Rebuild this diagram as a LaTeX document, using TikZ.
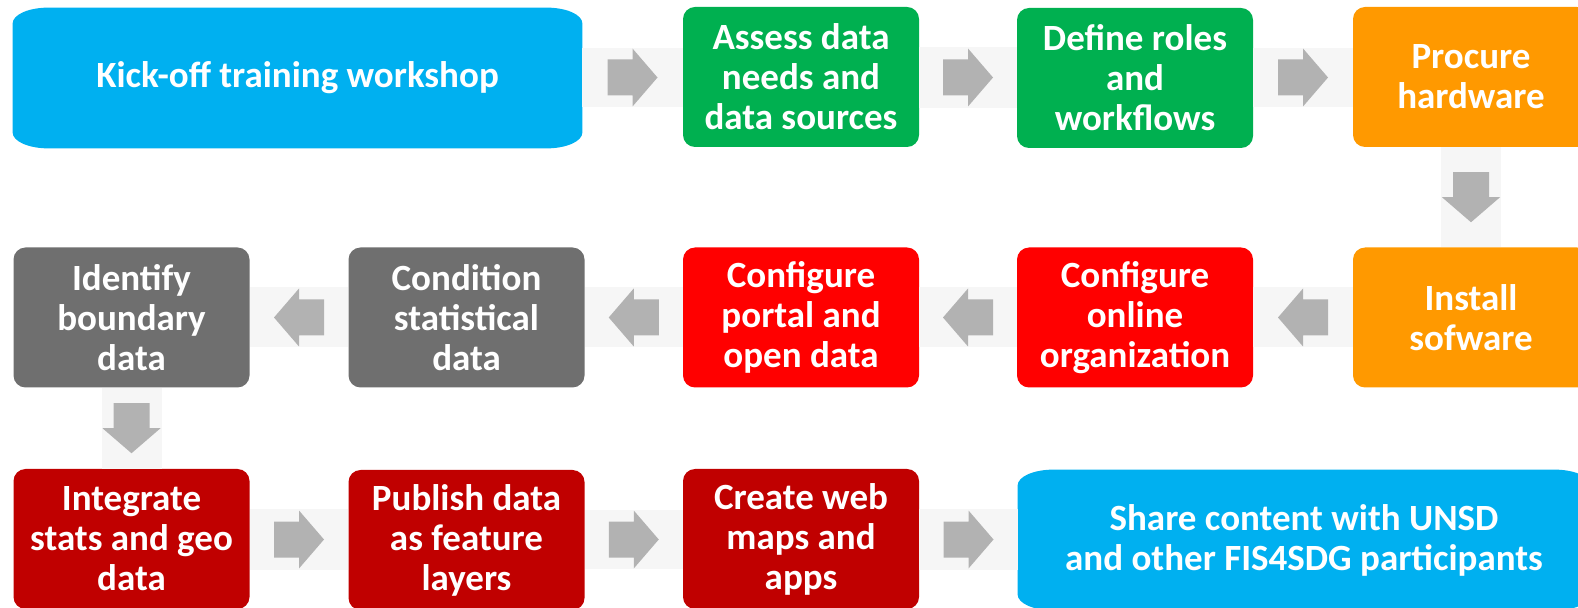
\documentclass[tikz,border=0pt]{standalone}
\usepackage{fontspec}
\setmainfont{Carlito}
\usetikzlibrary{calc}
\pgfdeclarelayer{background}
\pgfsetlayers{background,main}
\definecolor{cblue}{HTML}{00B0F0}
\definecolor{cgreen}{HTML}{00B050}
\definecolor{corange}{HTML}{FF9900}
\definecolor{cred}{HTML}{FF0000}
\definecolor{cdred}{HTML}{C00000}
\definecolor{cgray}{HTML}{6F6F6F}
\definecolor{carrow}{HTML}{B2B2B2}
\definecolor{cband}{HTML}{F6F6F6}
\tikzset{
  stepbox/.style={rectangle, rounded corners=6pt, inner sep=0pt, text=white,
    minimum width=118pt, minimum height=70pt, align=center,
    font=\fontsize{18.5}{20}\selectfont\bfseries},
  widebox/.style={rectangle, inner sep=0pt, text=white, align=center,
    minimum height=70pt, font=\fontsize{18.5}{20}\selectfont\bfseries},
  bandfill/.style={fill=cband},
  arrowfill/.style={fill=carrow}
}
% right-pointing block arrow in the gap between #1 (left) and #2 (right)
\newcommand\rarr[2]{%
  \fill[bandfill] ([yshift=15pt]#1.east) rectangle ([yshift=-15pt]#2.west);
  \coordinate (m) at ($(#1.east)!0.5!(#2.west)$);
  \fill[arrowfill] ([shift={(-25,-18)}]m) -- ([shift={(0,-18)}]m) -- ([shift={(0,-29)}]m)
    -- ([shift={(25,0)}]m) -- ([shift={(0,29)}]m) -- ([shift={(0,18)}]m)
    -- ([shift={(-25,18)}]m) -- cycle;}
% left-pointing block arrow from #1 (right) to #2 (left)
\newcommand\larr[2]{%
  \fill[bandfill] ([yshift=15pt]#2.east) rectangle ([yshift=-15pt]#1.west);
  \coordinate (m) at ($(#2.east)!0.5!(#1.west)$);
  \fill[arrowfill] ([shift={(25,-18)}]m) -- ([shift={(0,-18)}]m) -- ([shift={(0,-29)}]m)
    -- ([shift={(-25,0)}]m) -- ([shift={(0,29)}]m) -- ([shift={(0,18)}]m)
    -- ([shift={(25,18)}]m) -- cycle;}
% down-pointing block arrow from #1 (top) to #2 (bottom)
\newcommand\darr[2]{%
  \fill[bandfill] ([xshift=-15pt]#1.south) rectangle ([xshift=15pt]#2.north);
  \coordinate (m) at ($(#1.south)!0.5!(#2.north)$);
  \fill[arrowfill] ([shift={(-18,-25)}]m) -- ([shift={(-18,0)}]m) -- ([shift={(-29,0)}]m)
    -- ([shift={(0,25)}]m) -- ([shift={(29,0)}]m) -- ([shift={(18,0)}]m)
    -- ([shift={(18,-25)}]m) -- cycle;}
% box with elliptical corners behind node #1
\newcommand\ellbox[2]{%
  \fill[#2] ([shift={(0,16)}]#1.north west)
    .. controls ([shift={(0,7)}]#1.north west) and ([shift={(16,0)}]#1.north west) .. ([shift={(36,0)}]#1.north west)
    -- ([shift={(-36,0)}]#1.north east)
    .. controls ([shift={(-16,0)}]#1.north east) and ([shift={(0,7)}]#1.north east) .. ([shift={(0,16)}]#1.north east)
    -- ([shift={(0,-16)}]#1.south east)
    .. controls ([shift={(0,-7)}]#1.south east) and ([shift={(-16,0)}]#1.south east) .. ([shift={(-36,0)}]#1.south east)
    -- ([shift={(36,0)}]#1.south west)
    .. controls ([shift={(16,0)}]#1.south west) and ([shift={(0,-7)}]#1.south west) .. ([shift={(0,-16)}]#1.south west)
    -- cycle;}
\begin{document}
\begin{tikzpicture}[x=0.5pt,y=-0.5pt]
\useasboundingbox (0,0) rectangle (1578,608);
\clip (0,0) rectangle (1578,608);
% row 1
\node[widebox, minimum width=284.5pt] (kick) at (297.5,78) {Kick-off training workshop};
\node[stepbox, fill=cgreen] (assess) at (801,77) {Assess data\\needs and\\data sources};
\node[stepbox, fill=cgreen] (define) at (1135,78) {Define roles\\and\\workflows};
\node[stepbox, fill=corange] (procure) at (1471,77) {Procure\\hardware};
% row 2
\node[stepbox, fill=corange] (install) at (1471,317.5) {Install\\sofware};
\node[stepbox, fill=cred] (online) at (1135,317.5) {Configure\\online\\organization};
\node[stepbox, fill=cred] (portal) at (801,317.5) {Configure\\portal and\\open data};
\node[stepbox, fill=cgray] (condition) at (466.5,317.5) {Condition\\statistical\\data};
\node[stepbox, fill=cgray] (identify) at (131.5,317.5) {Identify\\boundary\\data};
% row 3
\node[stepbox, fill=cdred] (integrate) at (131.5,539) {Integrate\\stats and geo\\data};
\node[stepbox, fill=cdred] (publish) at (466.5,540) {Publish data\\as feature\\layers};
\node[stepbox, fill=cdred] (create) at (801,539) {Create web\\maps and\\apps};
\node[widebox, minimum width=286pt] (share) at (1304,540) {Share content with UNSD\\and other FIS4SDG participants};
\begin{pgfonlayer}{background}
\ellbox{kick}{cblue}
\ellbox{share}{cblue}
\end{pgfonlayer}
% connectors
\rarr{kick}{assess}
\rarr{assess}{define}
\rarr{define}{procure}
\darr{procure}{install}
\larr{install}{online}
\larr{online}{portal}
\larr{portal}{condition}
\larr{condition}{identify}
\darr{identify}{integrate}
\rarr{integrate}{publish}
\rarr{publish}{create}
\rarr{create}{share}
\end{tikzpicture}
\end{document}
